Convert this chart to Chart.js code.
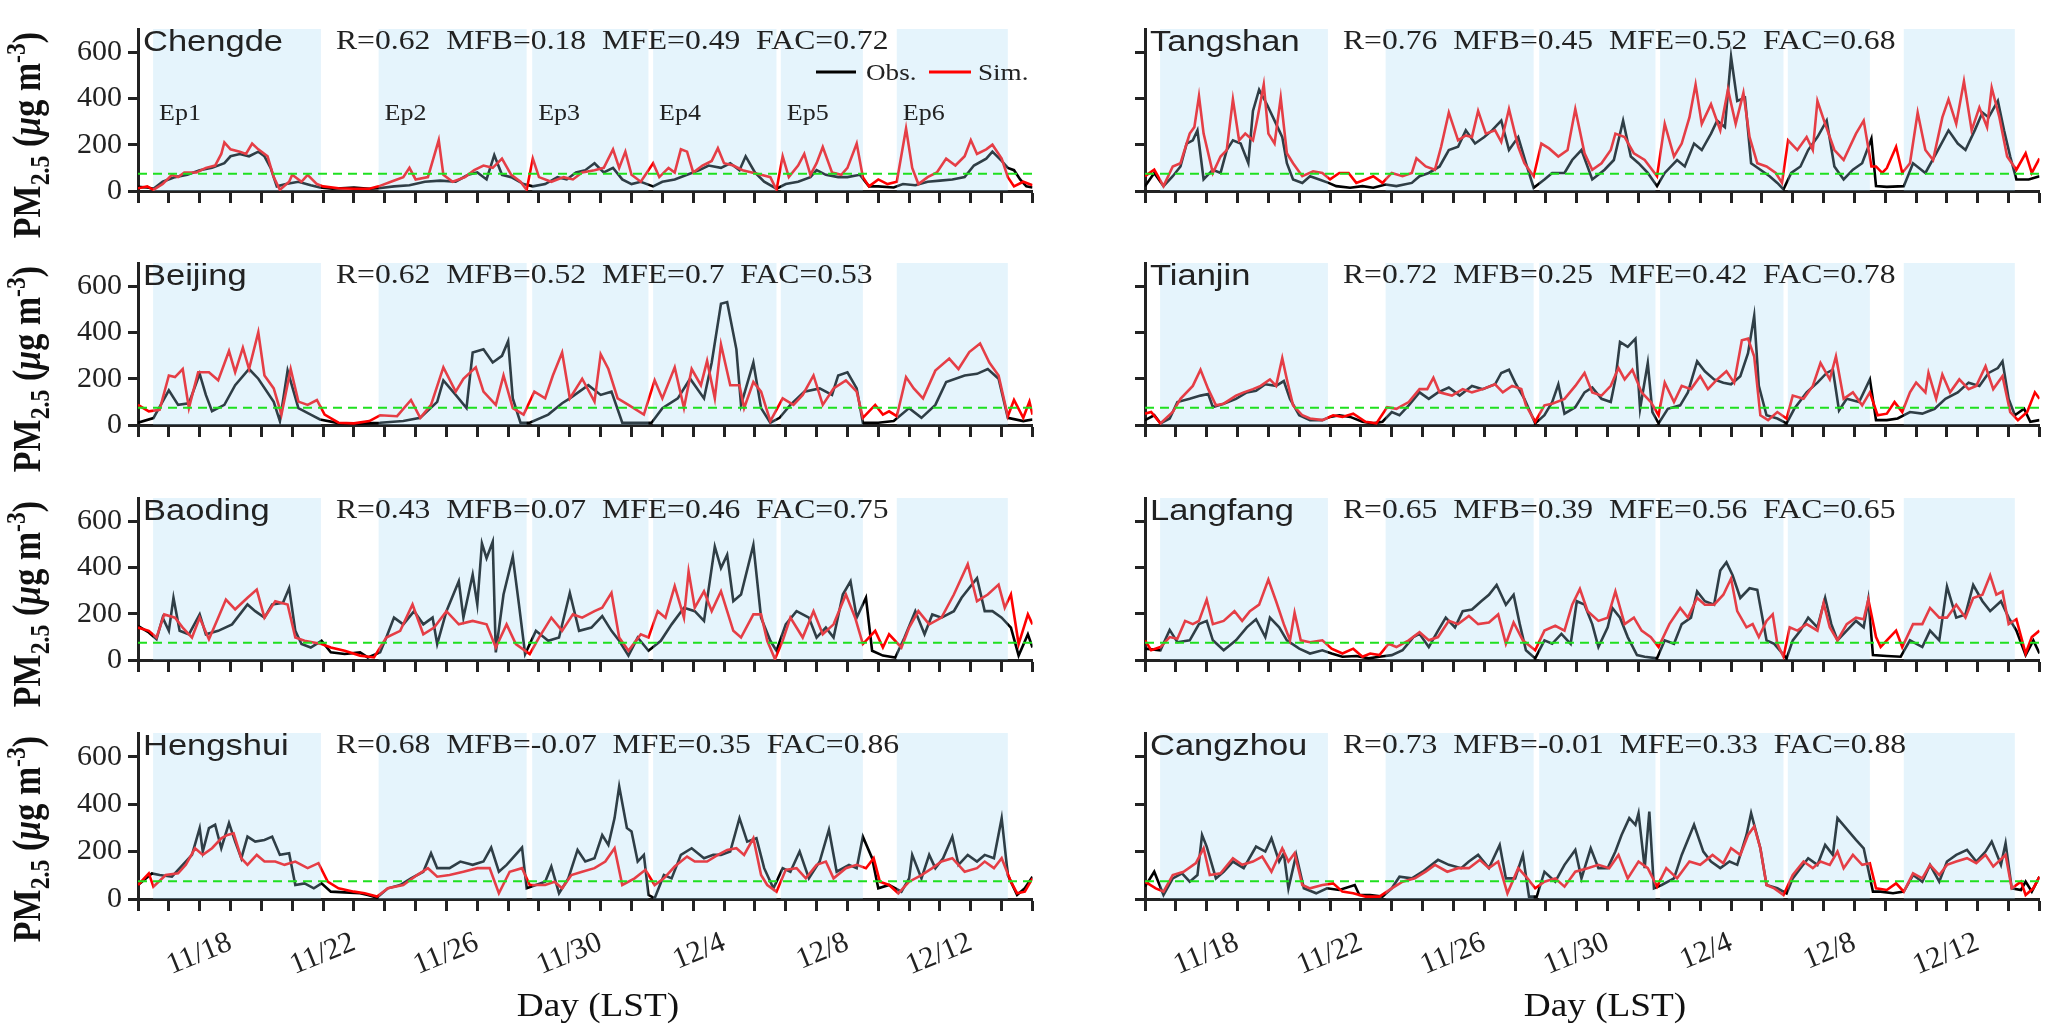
<!DOCTYPE html>
<html>
<head>
<meta charset="utf-8">
<script src="https://cdn.jsdelivr.net/npm/chart.js@4.4.0/dist/chart.umd.min.js"></script>
<style>
  body { margin: 0; background: #fff; }
  #fig { position: relative; width: 2067px; height: 1031px; overflow: hidden; background: #fff; }
  #fig canvas { position: absolute; }
  .ytitle {
    position: absolute; white-space: nowrap; line-height: 1; color: #111;
    font-family: "Liberation Serif", "Times New Roman", Times, "DejaVu Serif", serif;
    font-weight: bold; font-size: 34px;
    transform: translate(-50%, -50%) rotate(-90deg) scaleY(1.15);
  }
  .ytitle sub, .ytitle sup { font-size: 0.7em; line-height: 0; }
  .xtitle {
    position: absolute; white-space: nowrap; line-height: 1; color: #111;
    font-family: "Liberation Serif", "Times New Roman", Times, "DejaVu Serif", serif;
    font-size: 33px;
    transform: translateX(-50%) scaleX(1.13);
  }
</style>
</head>
<body>
<div id="fig"></div>
<script>
// x axis: days since 11/15 00:00 LST
const tickDays = [3, 7, 11, 15, 19, 23, 27];
const tickLabels = ['11/18', '11/22', '11/26', '11/30', '12/4', '12/8', '12/12'];

// pollution episodes (days)
const epNames = ['Ep1', 'Ep2', 'Ep3', 'Ep4', 'Ep5', 'Ep6'];
const epStart = [0.49, 7.8, 12.78, 16.7, 20.84, 24.6];
const epEnd = [5.93, 12.6, 16.55, 20.7, 23.5, 28.2];

const threshold = 75;

const stations = ['Chengde', 'Beijing', 'Baoding', 'Hengshui', 'Tangshan', 'Tianjin', 'Langfang', 'Cangzhou'];
const statR = ['0.62', '0.62', '0.43', '0.68', '0.76', '0.72', '0.65', '0.73'];
const statMFB = ['0.18', '0.52', '0.07', '-0.07', '0.45', '0.25', '0.39', '-0.01'];
const statMFE = ['0.49', '0.7', '0.46', '0.35', '0.52', '0.42', '0.56', '0.33'];
const statFAC = ['0.72', '0.53', '0.75', '0.86', '0.68', '0.78', '0.65', '0.88'];

// [day, PM2.5]
const chengdeObs = [[0,18],[0.3,15],[0.5,10],[0.8,40],[1.2,60],[1.6,70],[2,90],[2.4,100],[2.8,120],[3,150],[3.3,160],[3.6,150],[3.9,170],[4.1,150],[4.3,100],[4.5,20],[4.8,30],[5.2,40],[5.6,25],[5.9,15],[6.3,10],[7,15],[7.5,10],[7.8,12],[8.3,20],[8.8,25],[9.3,40],[9.8,45],[10.3,40],[10.7,70],[11,80],[11.3,50],[11.55,155],[11.8,70],[12.1,60],[12.5,30],[12.8,20],[13.2,30],[13.6,60],[13.9,50],[14.2,80],[14.5,90],[14.8,120],[15.1,80],[15.4,100],[15.7,50],[16,30],[16.3,40],[16.7,20],[17,40],[17.4,50],[17.8,70],[18.2,90],[18.5,110],[18.9,100],[19.2,120],[19.5,90],[19.7,150],[20,80],[20.3,40],[20.7,10],[21,30],[21.4,40],[21.8,60],[22,90],[22.3,70],[22.7,60],[23,60],[23.4,70],[23.7,20],[24,20],[24.5,15],[24.8,30],[25.2,25],[25.6,40],[26,45],[26.4,50],[26.8,60],[27.1,110],[27.5,140],[27.7,170],[28,130],[28.2,100],[28.4,90],[28.6,50],[28.8,20],[29,15]];
const chengdeSim = [[0,12],[0.3,20],[0.5,5],[0.8,30],[1.1,70],[1.3,60],[1.5,80],[1.9,80],[2.2,100],[2.5,110],[2.7,160],[2.8,210],[3,180],[3.3,170],[3.5,160],[3.7,205],[3.9,180],[4.2,150],[4.4,60],[4.6,5],[4.9,40],[5,70],[5.3,40],[5.5,70],[5.8,30],[6,20],[6.5,12],[7,10],[7.5,10],[7.8,20],[8.2,40],[8.6,60],[8.8,100],[9,50],[9.4,60],[9.75,220],[9.9,70],[10.2,40],[10.6,60],[10.9,90],[11.2,110],[11.5,100],[11.8,140],[12.1,70],[12.4,40],[12.6,5],[12.8,140],[13,60],[13.4,40],[13.8,60],[14.1,50],[14.4,80],[14.8,90],[15.1,100],[15.4,180],[15.6,100],[15.8,170],[16,70],[16.3,40],[16.5,80],[16.7,120],[16.9,60],[17.2,100],[17.4,80],[17.6,180],[17.8,170],[18,80],[18.3,110],[18.6,130],[18.8,185],[19,120],[19.3,110],[19.6,90],[19.9,80],[20.2,70],[20.5,60],[20.7,5],[20.9,150],[21.1,60],[21.4,110],[21.6,160],[21.8,70],[22,120],[22.2,190],[22.5,80],[22.8,70],[23,100],[23.3,205],[23.5,60],[23.7,20],[24,50],[24.3,30],[24.6,40],[24.9,270],[25.1,100],[25.3,30],[25.6,60],[25.9,80],[26.2,140],[26.5,110],[26.8,150],[27,220],[27.2,160],[27.5,180],[27.7,200],[28,140],[28.2,60],[28.4,20],[28.7,40],[29,25]];

const beijingObs = [[0,10],[0.5,30],[1,150],[1.3,87],[1.65,94],[2,221],[2.2,130],[2.4,60],[2.8,87],[3.15,172],[3.6,242],[3.9,200],[4.4,100],[4.6,17],[4.85,235],[5.2,73],[5.6,45],[5.9,24],[6.5,8],[7.2,6],[7.85,10],[8.6,17],[9.15,31],[9.7,100],[9.9,193],[10.3,130],[10.65,73],[10.85,313],[11.2,327],[11.5,270],[11.8,299],[12,362],[12.15,115],[12.4,10],[12.7,10],[13.3,45],[13.75,94],[14,115],[14.6,172],[15,130],[15.35,144],[15.7,10],[16.3,10],[16.65,10],[17,73],[17.5,115],[17.9,200],[18.35,115],[18.6,270],[18.9,524],[19.1,531],[19.4,327],[19.55,87],[19.95,270],[20.2,73],[20.5,10],[20.8,31],[21.15,87],[21.6,144],[22.1,158],[22.5,130],[22.7,214],[23,228],[23.3,158],[23.5,10],[24,10],[24.5,17],[25,73],[25.4,31],[25.85,87],[26.2,186],[26.8,214],[27.2,221],[27.55,242],[27.9,200],[28.2,31],[28.7,17],[29,24]];
const beijingSim = [[0,87],[0.35,59],[0.7,66],[1,214],[1.2,207],[1.45,242],[1.65,73],[1.95,228],[2.3,228],[2.6,193],[2.95,320],[3.15,228],[3.4,334],[3.6,242],[3.9,401],[4.1,214],[4.4,158],[4.65,45],[4.95,242],[5.2,101],[5.5,87],[5.8,108],[6.05,45],[6.5,10],[7,7],[7.5,17],[7.85,42],[8.4,38],[8.85,108],[9.15,31],[9.5,87],[9.9,249],[10.3,144],[10.55,200],[10.95,249],[11.2,144],[11.6,87],[11.85,214],[12.15,73],[12.5,45],[12.85,144],[13.2,115],[13.45,214],[13.75,313],[14,115],[14.4,200],[14.8,101],[15,306],[15.25,242],[15.55,115],[15.9,87],[16.4,45],[16.75,193],[17,115],[17.4,249],[17.7,73],[17.95,242],[18.25,172],[18.45,277],[18.7,115],[18.9,348],[19.2,172],[19.5,172],[19.65,73],[19.95,186],[20.2,144],[20.5,17],[20.9,115],[21.25,87],[21.55,130],[21.9,214],[22.2,87],[22.55,158],[22.95,193],[23.3,144],[23.5,31],[23.9,87],[24.15,45],[24.35,59],[24.6,38],[24.9,207],[25.15,158],[25.45,115],[25.85,235],[26.3,287],[26.6,242],[26.95,315],[27.3,352],[27.6,270],[27.9,214],[28.2,38],[28.4,108],[28.7,31],[28.9,101],[29,45]];

const baodingObs = [[0,147],[0.35,119],[0.6,90],[0.8,183],[1,126],[1.15,269],[1.35,126],[1.65,111],[2,197],[2.2,111],[2.6,126],[3.05,154],[3.55,240],[3.8,211],[4.1,183],[4.35,240],[4.7,247],[4.9,311],[5.1,126],[5.3,69],[5.6,54],[5.95,83],[6.25,33],[6.7,26],[7.2,33],[7.45,11],[7.85,33],[8.05,97],[8.3,183],[8.6,154],[8.95,211],[9.25,154],[9.55,183],[9.7,69],[10,211],[10.4,340],[10.55,183],[10.85,369],[11,240],[11.15,504],[11.3,440],[11.5,511],[11.6,33],[11.85,283],[12.15,447],[12.35,240],[12.55,26],[12.9,126],[13.3,83],[13.65,97],[14,290],[14.3,126],[14.7,140],[15.05,190],[15.35,126],[15.6,83],[15.9,19],[16.2,97],[16.55,40],[16.95,83],[17.3,154],[17.7,226],[18.05,211],[18.35,169],[18.7,490],[18.9,397],[19.1,454],[19.3,254],[19.55,283],[19.95,497],[20.2,183],[20.5,83],[20.7,40],[21,154],[21.35,211],[21.75,183],[22,97],[22.3,140],[22.55,97],[22.85,283],[23.1,340],[23.3,183],[23.6,269],[23.8,40],[24.15,19],[24.55,11],[24.85,97],[25.2,211],[25.5,111],[25.75,197],[26.05,183],[26.45,211],[26.7,269],[27.2,354],[27.45,211],[27.7,211],[28,183],[28.3,140],[28.55,19],[28.85,111],[29,54]];
const baodingSim = [[0,140],[0.35,126],[0.6,97],[0.85,197],[1.2,183],[1.45,140],[1.75,97],[2,183],[2.3,90],[2.6,183],[2.85,261],[3.15,219],[3.55,269],[3.85,304],[4.1,183],[4.45,254],[4.85,240],[5.1,97],[5.4,83],[5.95,69],[6.25,54],[6.7,40],[7.2,19],[7.65,11],[8.05,97],[8.5,126],[8.9,240],[9.25,111],[9.6,140],[10,211],[10.4,154],[10.85,169],[11.3,154],[11.6,54],[11.95,154],[12.25,69],[12.7,26],[13,97],[13.4,183],[13.75,126],[14.1,197],[14.4,183],[14.8,211],[15.05,226],[15.35,290],[15.6,97],[15.9,40],[16.3,111],[16.55,97],[16.85,211],[17.1,183],[17.4,319],[17.7,183],[17.85,383],[18.05,226],[18.35,297],[18.6,211],[18.9,297],[19.3,126],[19.55,97],[19.95,197],[20.2,197],[20.4,83],[20.65,4],[20.9,83],[21.15,183],[21.55,97],[21.9,211],[22.2,111],[22.55,154],[22.95,283],[23.25,183],[23.5,69],[23.9,126],[24.15,54],[24.35,111],[24.75,54],[25,140],[25.3,211],[25.65,154],[26.05,183],[26.45,283],[26.9,414],[27.2,254],[27.55,283],[27.9,326],[28.1,226],[28.3,283],[28.55,69],[28.85,197],[29,154]];

const hengshuiObs = [[0,59],[0.45,108],[0.7,101],[1.1,94],[1.45,144],[1.75,186],[2,299],[2.1,200],[2.3,299],[2.5,313],[2.7,214],[2.95,320],[3.15,242],[3.35,172],[3.55,263],[3.8,242],[4.1,249],[4.35,263],[4.6,186],[4.9,193],[5.1,59],[5.4,66],[5.7,45],[5.95,66],[6.25,31],[6.7,28],[7.2,24],[7.45,17],[7.75,6],[8.1,45],[8.5,59],[8.85,87],[9.25,115],[9.5,193],[9.7,130],[10.1,130],[10.45,158],[10.85,144],[11.2,158],[11.45,217],[11.7,115],[11.95,144],[12.45,217],[12.6,45],[12.9,59],[13.2,73],[13.4,137],[13.65,24],[13.95,87],[14.25,207],[14.5,158],[14.8,172],[15.05,270],[15.25,228],[15.45,341],[15.6,475],[15.85,299],[16,285],[16.2,158],[16.4,186],[16.55,17],[16.75,3],[17.05,101],[17.3,87],[17.6,186],[17.95,214],[18.35,172],[18.65,186],[18.9,186],[19.2,200],[19.5,341],[19.75,242],[20.05,256],[20.3,130],[20.6,45],[20.9,130],[21.15,115],[21.45,200],[21.75,87],[22.1,158],[22.4,292],[22.65,115],[23.05,144],[23.3,130],[23.5,263],[23.8,172],[24,45],[24.35,59],[24.75,31],[25,87],[25.1,186],[25.4,87],[25.65,186],[25.85,130],[26.1,172],[26.4,263],[26.6,144],[26.9,186],[27.2,158],[27.45,186],[27.75,172],[28,341],[28.2,101],[28.5,17],[28.75,45],[29,94]];
const hengshuiSim = [[0,59],[0.35,108],[0.5,52],[0.9,101],[1.3,108],[1.55,144],[1.85,214],[2.1,186],[2.4,214],[2.7,256],[2.9,270],[3.1,277],[3.35,172],[3.55,144],[3.85,186],[4.1,158],[4.45,158],[4.75,144],[5.1,158],[5.5,130],[5.85,151],[6.15,73],[6.5,45],[7,31],[7.35,24],[7.75,10],[8.1,45],[8.6,59],[9.05,101],[9.4,130],[9.7,94],[10.1,101],[10.55,115],[11,130],[11.4,130],[11.7,24],[12.05,115],[12.45,130],[12.7,59],[13.2,59],[13.5,73],[13.75,45],[14.05,101],[14.4,115],[14.8,130],[15.15,158],[15.45,214],[15.7,59],[16.1,87],[16.45,123],[16.75,59],[17.05,87],[17.4,137],[17.8,179],[18.05,158],[18.45,158],[18.8,186],[19.1,207],[19.4,214],[19.65,186],[19.95,256],[20.2,101],[20.4,59],[20.7,31],[21,123],[21.35,130],[21.65,87],[22,144],[22.3,158],[22.55,87],[22.95,130],[23.3,144],[23.6,130],[23.85,172],[24.05,73],[24.35,59],[24.65,24],[25,73],[25.4,101],[25.75,130],[26.05,158],[26.4,172],[26.8,115],[27.2,130],[27.45,158],[27.75,130],[28,172],[28.3,73],[28.5,24],[28.75,31],[29,87]];

const tangshanObs = [[0,21],[0.3,78],[0.6,21],[0.9,64],[1.15,106],[1.35,205],[1.55,219],[1.7,262],[1.9,50],[2.2,92],[2.45,78],[2.65,177],[2.85,219],[3.1,205],[3.35,120],[3.5,346],[3.7,438],[3.95,375],[4.25,290],[4.45,233],[4.6,120],[4.8,50],[5.1,35],[5.35,64],[5.65,50],[5.95,35],[6.2,21],[6.65,14],[7.05,21],[7.4,14],[7.8,28],[8.15,21],[8.65,35],[8.9,64],[9.2,78],[9.55,106],[9.85,177],[10.15,191],[10.4,262],[10.7,205],[11,233],[11.25,262],[11.55,304],[11.8,177],[12.1,233],[12.35,120],[12.6,14],[12.95,50],[13.2,78],[13.6,78],[13.85,134],[14.15,177],[14.5,50],[14.9,92],[15.2,134],[15.5,304],[15.75,149],[16,120],[16.3,78],[16.6,21],[16.85,78],[17.25,134],[17.5,106],[17.8,205],[18.05,177],[18.35,248],[18.55,304],[18.8,276],[19,580],[19.2,389],[19.45,403],[19.65,120],[19.95,92],[20.25,64],[20.5,35],[20.7,7],[20.95,78],[21.25,106],[21.5,177],[21.8,233],[22.1,304],[22.35,106],[22.65,50],[22.95,92],[23.25,120],[23.55,226],[23.7,21],[24.05,18],[24.6,21],[24.9,120],[25.3,78],[25.65,163],[26.05,262],[26.35,205],[26.6,177],[26.9,262],[27.15,339],[27.35,318],[27.65,389],[27.85,262],[28.05,149],[28.25,50],[28.65,50],[29,64]];
const tangshanSim = [[0,64],[0.3,92],[0.6,21],[0.9,106],[1.15,120],[1.45,248],[1.6,276],[1.75,410],[1.9,248],[2.2,78],[2.45,149],[2.65,177],[2.85,396],[3.05,219],[3.25,248],[3.5,219],[3.65,318],[3.85,460],[4,248],[4.2,205],[4.4,403],[4.6,163],[4.8,120],[5.1,64],[5.45,85],[5.75,78],[6,50],[6.3,78],[6.6,78],[6.85,35],[7.15,50],[7.4,64],[7.7,35],[8,78],[8.35,64],[8.65,78],[8.8,141],[9.1,106],[9.4,92],[9.6,191],[9.85,339],[10.15,219],[10.4,240],[10.6,233],[10.8,346],[11.05,248],[11.35,262],[11.55,212],[11.8,354],[12.1,191],[12.3,120],[12.6,64],[12.85,205],[13.1,184],[13.4,149],[13.7,177],[13.95,354],[14.25,163],[14.5,92],[14.8,120],[15.1,177],[15.25,248],[15.55,233],[15.85,163],[16.2,134],[16.6,64],[16.85,290],[17.15,149],[17.4,205],[17.65,318],[17.85,460],[18.05,290],[18.35,375],[18.65,262],[18.9,438],[19.15,290],[19.4,424],[19.6,233],[19.85,120],[20.15,106],[20.45,78],[20.65,35],[20.85,219],[21.15,177],[21.45,233],[21.65,177],[21.8,389],[22.05,290],[22.35,177],[22.65,134],[23.05,248],[23.3,304],[23.55,106],[23.7,106],[23.9,78],[24.05,99],[24.35,191],[24.55,78],[24.8,120],[25.05,339],[25.3,177],[25.55,134],[25.85,318],[26.05,396],[26.3,290],[26.55,474],[26.8,262],[27.05,361],[27.3,276],[27.45,446],[27.7,318],[27.95,149],[28.25,92],[28.55,163],[28.75,78],[29,141]];

const tianjinObs = [[0,21],[0.3,42],[0.5,7],[0.8,28],[1.05,99],[1.45,113],[1.8,127],[2.05,134],[2.2,77],[2.55,92],[2.95,113],[3.3,141],[3.6,148],[3.9,176],[4.25,169],[4.5,190],[4.7,113],[5,42],[5.35,21],[5.75,21],[6,35],[6.3,42],[6.65,35],[7.05,14],[7.4,7],[7.7,14],[8,56],[8.25,42],[8.55,85],[8.9,141],[9.2,113],[9.5,141],[9.85,162],[10.2,127],[10.6,169],[10.95,155],[11.35,176],[11.55,225],[11.8,239],[12,183],[12.3,113],[12.65,7],[12.95,42],[13.2,99],[13.4,176],[13.6,49],[13.95,77],[14.25,141],[14.5,162],[14.8,113],[15.1,99],[15.25,197],[15.4,359],[15.65,338],[15.9,373],[16.05,70],[16.3,268],[16.45,56],[16.65,7],[16.95,70],[17.35,85],[17.6,141],[17.9,275],[18.15,232],[18.45,197],[18.75,183],[19,176],[19.3,211],[19.55,310],[19.75,472],[19.9,169],[20.15,42],[20.5,28],[20.8,7],[21.05,70],[21.45,141],[21.8,183],[22.1,225],[22.3,239],[22.5,63],[22.75,113],[23.15,99],[23.5,197],[23.7,21],[24.05,21],[24.4,28],[24.8,56],[25.2,49],[25.6,70],[25.95,113],[26.35,141],[26.7,183],[27.05,169],[27.35,225],[27.65,246],[27.8,275],[28,113],[28.2,42],[28.5,70],[28.7,14],[29,21]];
const tianjinSim = [[0,49],[0.2,56],[0.5,7],[0.9,56],[1.15,113],[1.55,169],[1.8,239],[2.05,155],[2.3,85],[2.55,92],[2.95,127],[3.2,141],[3.5,155],[3.75,169],[4.05,197],[4.25,169],[4.45,289],[4.6,197],[4.8,85],[5.1,42],[5.35,28],[5.75,21],[6.1,42],[6.4,35],[6.75,49],[7.15,14],[7.5,7],[7.85,77],[8.15,70],[8.55,99],[8.9,155],[9.15,155],[9.35,204],[9.55,141],[9.95,127],[10.3,155],[10.6,141],[10.95,155],[11.35,176],[11.6,141],[11.9,169],[12.2,155],[12.35,85],[12.65,14],[12.95,85],[13.2,92],[13.6,113],[13.95,169],[14.25,225],[14.5,141],[14.8,127],[15.1,169],[15.35,246],[15.55,197],[15.8,239],[16.1,141],[16.4,99],[16.65,42],[16.85,183],[17.15,99],[17.4,169],[17.7,155],[18,211],[18.25,155],[18.55,197],[18.85,232],[19.1,183],[19.35,366],[19.55,373],[19.75,296],[19.95,42],[20.2,21],[20.5,56],[20.8,28],[21,127],[21.35,113],[21.65,169],[21.9,268],[22.2,197],[22.4,296],[22.65,113],[22.95,141],[23.25,85],[23.5,141],[23.75,42],[24.05,49],[24.3,99],[24.55,56],[24.8,141],[25,183],[25.3,141],[25.4,225],[25.65,113],[25.85,218],[26.1,141],[26.4,197],[26.7,155],[26.95,169],[27.25,254],[27.5,155],[27.8,211],[28.05,56],[28.3,21],[28.6,56],[28.85,141],[29,113]];

const langfangObs = [[0,49],[0.5,42],[0.8,130],[1.05,77],[1.45,85],[1.75,155],[2,169],[2.2,85],[2.55,42],[2.95,85],[3.3,141],[3.6,176],[3.9,99],[4.05,183],[4.35,141],[4.6,85],[5,49],[5.35,28],[5.75,42],[6.05,28],[6.4,14],[6.85,17],[7.25,7],[7.6,14],[8,21],[8.35,42],[8.7,99],[8.9,113],[9.2,56],[9.5,127],[9.75,183],[10.05,141],[10.3,211],[10.6,218],[10.9,254],[11.15,282],[11.4,324],[11.7,239],[11.95,282],[12.15,155],[12.35,42],[12.65,7],[12.95,85],[13.2,70],[13.5,113],[13.8,70],[14,254],[14.25,239],[14.5,155],[14.7,56],[15,141],[15.15,225],[15.4,183],[15.65,99],[15.95,21],[16.2,14],[16.6,7],[16.85,85],[17.15,70],[17.4,155],[17.7,183],[17.9,296],[18.15,254],[18.45,239],[18.65,387],[18.85,422],[19.05,366],[19.3,268],[19.6,310],[19.85,303],[20.15,85],[20.4,70],[20.8,7],[21,85],[21.25,127],[21.5,183],[21.8,141],[22.05,268],[22.25,155],[22.45,85],[22.75,127],[23.05,169],[23.3,141],[23.45,261],[23.6,21],[24.05,17],[24.5,14],[24.8,85],[25.2,56],[25.45,127],[25.75,85],[26,317],[26.3,183],[26.6,197],[26.85,324],[27.15,254],[27.4,211],[27.75,254],[28,183],[28.25,127],[28.55,21],[28.8,85],[29,28]];
const langfangSim = [[0,85],[0.2,42],[0.5,56],[0.8,99],[1.05,92],[1.3,169],[1.55,155],[1.75,169],[2,261],[2.2,155],[2.55,169],[2.9,211],[3.15,169],[3.4,211],[3.7,239],[4,348],[4.25,254],[4.5,155],[4.7,85],[4.85,204],[5.05,85],[5.35,77],[5.75,85],[6.05,49],[6.4,28],[6.75,49],[7.05,14],[7.3,28],[7.6,21],[7.9,70],[8.15,56],[8.55,85],[8.9,120],[9.2,85],[9.5,99],[9.85,169],[10.15,155],[10.5,190],[10.8,155],[11.15,162],[11.45,197],[11.7,70],[11.95,162],[12.25,85],[12.65,42],[12.95,127],[13.3,148],[13.6,127],[13.85,239],[14.1,307],[14.35,211],[14.7,169],[15,183],[15.25,296],[15.55,155],[15.85,183],[16.1,127],[16.4,99],[16.65,56],[17,155],[17.35,225],[17.6,183],[17.9,268],[18.15,239],[18.45,239],[18.75,282],[19,352],[19.2,211],[19.5,141],[19.7,155],[19.9,99],[20.15,169],[20.35,197],[20.5,70],[20.7,14],[20.9,141],[21.15,127],[21.45,155],[21.8,127],[22,246],[22.2,141],[22.45,85],[22.75,155],[23.05,183],[23.3,176],[23.45,261],[23.7,99],[23.85,56],[24.05,85],[24.35,127],[24.55,56],[24.9,155],[25.2,155],[25.45,225],[25.75,183],[26,183],[26.3,239],[26.6,183],[26.85,268],[27.15,282],[27.4,366],[27.6,282],[27.8,296],[28,155],[28.25,176],[28.55,28],[28.75,99],[29,127]];

const cangzhouObs = [[0,52],[0.3,115],[0.6,17],[0.9,87],[1.2,108],[1.45,73],[1.7,101],[1.85,270],[2,221],[2.3,87],[2.55,115],[2.85,158],[3.2,130],[3.6,221],[3.9,200],[4.1,256],[4.35,158],[4.5,193],[4.65,45],[4.9,186],[5.15,45],[5.55,24],[5.9,45],[6.3,38],[6.8,59],[6.95,17],[7.3,17],[7.7,10],[8,45],[8.25,94],[8.65,87],[9,115],[9.5,165],[9.85,144],[10.25,130],[10.5,158],[10.8,186],[11.15,130],[11.5,228],[11.7,87],[12,87],[12.25,186],[12.45,10],[12.7,10],[12.95,115],[13.3,73],[13.6,144],[13.95,207],[14.15,87],[14.45,214],[14.7,130],[15,130],[15.25,200],[15.45,270],[15.7,341],[15.9,313],[16,362],[16.2,130],[16.35,369],[16.5,45],[16.75,59],[17.15,87],[17.4,186],[17.8,313],[18.1,200],[18.35,158],[18.65,130],[18.95,158],[19.2,144],[19.5,270],[19.65,362],[19.95,214],[20.15,59],[20.5,45],[20.8,24],[21,87],[21.25,130],[21.5,172],[21.8,144],[22.05,228],[22.3,186],[22.45,341],[23.05,249],[23.3,214],[23.6,31],[23.85,31],[24.25,24],[24.6,31],[24.9,101],[25.2,73],[25.45,144],[25.75,73],[26,158],[26.3,186],[26.65,207],[26.95,158],[27.25,200],[27.45,242],[27.75,144],[27.9,235],[28.1,45],[28.4,38],[28.55,73],[28.75,31],[29,94]];
const cangzhouSim = [[0,73],[0.35,45],[0.6,31],[0.9,101],[1.25,115],[1.65,151],[1.9,214],[2.1,101],[2.45,108],[2.85,172],[3.15,144],[3.5,158],[3.8,179],[4.1,115],[4.45,214],[4.65,158],[4.85,193],[5.1,59],[5.35,45],[5.75,59],[6.1,66],[6.4,31],[6.75,24],[7.15,10],[7.6,10],[8,45],[8.35,73],[8.75,87],[9.1,115],[9.4,144],[9.8,115],[10.15,130],[10.5,130],[10.85,165],[11.15,130],[11.45,158],[11.75,24],[12.1,130],[12.4,87],[12.65,45],[12.95,73],[13.3,87],[13.6,52],[13.95,115],[14.35,130],[14.7,144],[15.05,130],[15.35,186],[15.65,87],[16,158],[16.3,130],[16.6,52],[16.9,130],[17.25,87],[17.65,158],[18,144],[18.4,186],[18.75,151],[19,214],[19.3,186],[19.55,270],[19.75,306],[19.95,214],[20.15,59],[20.4,45],[20.7,17],[21,101],[21.35,158],[21.65,130],[21.9,158],[22.2,144],[22.45,200],[22.65,130],[22.95,186],[23.25,144],[23.5,151],[23.7,45],[24.05,38],[24.35,66],[24.6,31],[24.9,108],[25.2,87],[25.45,144],[25.75,101],[26,144],[26.3,158],[26.65,172],[26.95,151],[27.25,186],[27.5,137],[27.9,186],[28.1,45],[28.4,73],[28.55,17],[28.8,45],[29,94]];

const obsSeries = [chengdeObs, beijingObs, baodingObs, hengshuiObs, tangshanObs, tianjinObs, langfangObs, cangzhouObs];
const simSeries = [chengdeSim, beijingSim, baodingSim, hengshuiSim, tangshanSim, tianjinSim, langfangSim, cangzhouSim];

// page layout
const COL_X = [138, 1145];
const ROW_ZERO = [195, 429, 664, 899];
const PLOT_W = 920, PLOT_H = 166, PAD_TOP = 24, Y_W = 120;
const INK = '#222';
const SERIF = '"Liberation Serif", "Times New Roman", Times, "DejaVu Serif", serif';
const SANS = '"Liberation Sans", Arial, Helvetica, "DejaVu Sans", sans-serif';

function stretchText(ctx, txt, x, y, sx) {
    ctx.save();
    ctx.translate(x, y);
    ctx.scale(sx, 1);
    ctx.fillText(txt, 0, 0);
    ctx.restore();
}

const panelDecor = {
    id: 'panelDecor',
    // episode shading goes over both lines but under the 75 ug/m3 line
    afterDatasetDraw(chart, args) {
        if (args.index !== 1) return;
        const { ctx, chartArea: a, scales: { x } } = chart;
        ctx.save();
        ctx.fillStyle = 'rgba(165,217,245,0.285)';
        for (let k = 0; k < epStart.length; k++) {
            const x0 = x.getPixelForValue(epStart[k]);
            const x1 = x.getPixelForValue(epEnd[k]);
            ctx.fillRect(x0, a.top, x1 - x0, a.bottom - a.top);
        }
        ctx.restore();
    },
    afterDraw(chart, args, opts) {
        const { ctx, chartArea: a, scales: { x } } = chart;
        const i = opts.station;
        ctx.save();
        ctx.textBaseline = 'alphabetic';
        ctx.fillStyle = INK;
        ctx.font = '30px ' + SANS;
        stretchText(ctx, stations[i], a.left + 5, a.top + 22, 1.15);
        ctx.font = '28px ' + SERIF;
        const stats = 'R=' + statR[i] + '  MFB=' + statMFB[i] + '  MFE=' + statMFE[i] + '  FAC=' + statFAC[i];
        stretchText(ctx, stats, a.left + 198, a.top + 20, 1.13);

        if (i === 0) {
            ctx.font = '23px ' + SERIF;
            for (let k = 0; k < epNames.length; k++) {
                stretchText(ctx, epNames[k], x.getPixelForValue(epStart[k]) + 6, a.top + 91, 1.13);
            }
            // legend
            ctx.lineWidth = 3;
            ctx.strokeStyle = '#000';
            ctx.beginPath(); ctx.moveTo(a.left + 678, a.top + 43); ctx.lineTo(a.left + 718, a.top + 43); ctx.stroke();
            ctx.strokeStyle = '#ff0000';
            ctx.beginPath(); ctx.moveTo(a.left + 791, a.top + 43); ctx.lineTo(a.left + 833, a.top + 43); ctx.stroke();
            ctx.font = '24px ' + SERIF;
            stretchText(ctx, 'Obs.', a.left + 728, a.top + 51, 1.13);
            stretchText(ctx, 'Sim.', a.left + 840, a.top + 51, 1.13);
        }
        ctx.restore();
    }
};

const fig = document.getElementById('fig');
const toXY = arr => arr.map(p => ({ x: p[0], y: p[1] }));

function buildPanels() {
    for (let i = 0; i < stations.length; i++) {
        const col = i < 4 ? 0 : 1;
        const row = i % 4;
        const bottom = row === 3;
        const xh = bottom ? 100 : 20;

        const cv = document.createElement('canvas');
        cv.width = Y_W + PLOT_W + 2;
        cv.height = PAD_TOP + PLOT_H + xh;
        cv.style.left = (COL_X[col] - Y_W) + 'px';
        cv.style.top = (ROW_ZERO[row] - PLOT_H - PAD_TOP) + 'px';
        fig.appendChild(cv);

        new Chart(cv, {
            type: 'line',
            data: {
                datasets: [
                    {
                        label: 'NAAQS',
                        data: [{ x: 0, y: threshold }, { x: 29, y: threshold }],
                        borderColor: '#1fe01f', borderWidth: 2, borderDash: [9, 6], pointRadius: 0
                    },
                    {
                        label: 'Sim.',
                        data: toXY(simSeries[i]),
                        borderColor: '#ff0000', borderWidth: 2.6, pointRadius: 0, tension: 0
                    },
                    {
                        label: 'Obs.',
                        data: toXY(obsSeries[i]),
                        borderColor: '#000000', borderWidth: 2.6, pointRadius: 0, tension: 0
                    }
                ]
            },
            options: {
                responsive: false,
                animation: false,
                devicePixelRatio: 1,
                events: [],
                layout: { padding: { top: PAD_TOP, right: 2, left: 0, bottom: 0 } },
                plugins: {
                    legend: { display: false },
                    tooltip: { enabled: false },
                    panelDecor: { station: i }
                },
                scales: {
                    x: {
                        type: 'linear', min: 0, max: 29,
                        afterFit: s => { s.height = xh; },
                        border: { display: true, color: INK, width: 3 },
                        grid: { display: true, drawOnChartArea: false, drawTicks: true, tickLength: 12, tickWidth: 3, tickColor: INK },
                        ticks: {
                            stepSize: 1, autoSkip: false, includeBounds: false,
                            minRotation: 22, maxRotation: 22, padding: 14,
                            color: INK,
                            font: { family: SERIF, size: 30 },
                            callback: v => {
                                const k = tickDays.indexOf(v);
                                return bottom && k >= 0 ? tickLabels[k] : '';
                            }
                        }
                    },
                    y: {
                        min: 0, max: 700,
                        afterFit: s => { s.width = Y_W; },
                        border: { display: true, color: INK, width: 3 },
                        grid: { display: true, drawOnChartArea: false, drawTicks: true, tickLength: 10, tickWidth: 3, tickColor: INK },
                        ticks: {
                            stepSize: 200, includeBounds: false, padding: 6,
                            color: INK,
                            font: { family: SERIF, size: 30 },
                            callback: v => col === 0 ? String(v) : ''
                        }
                    }
                }
            },
            plugins: [panelDecor]
        });
    }

    // axis titles as html text
    for (let row = 0; row < 4; row++) {
        const t = document.createElement('div');
        t.className = 'ytitle';
        t.innerHTML = 'PM<sub>2.5</sub> (<i>μ</i>g m<sup>-3</sup>)';
        t.style.left = '27px';
        t.style.top = (ROW_ZERO[row] - 60) + 'px';
        fig.appendChild(t);
    }
    for (let col = 0; col < 2; col++) {
        const t = document.createElement('div');
        t.className = 'xtitle';
        t.textContent = 'Day (LST)';
        t.style.left = (COL_X[col] + PLOT_W / 2) + 'px';
        t.style.top = '989px';
        fig.appendChild(t);
    }
}

// make sure the local fonts are ready before the canvases paint text
Promise.all([
    document.fonts.load('28px "Liberation Serif"'),
    document.fonts.load('bold 28px "Liberation Serif"'),
    document.fonts.load('30px "Liberation Sans"')
]).catch(() => {}).then(buildPanels);
</script>
</body>
</html>
